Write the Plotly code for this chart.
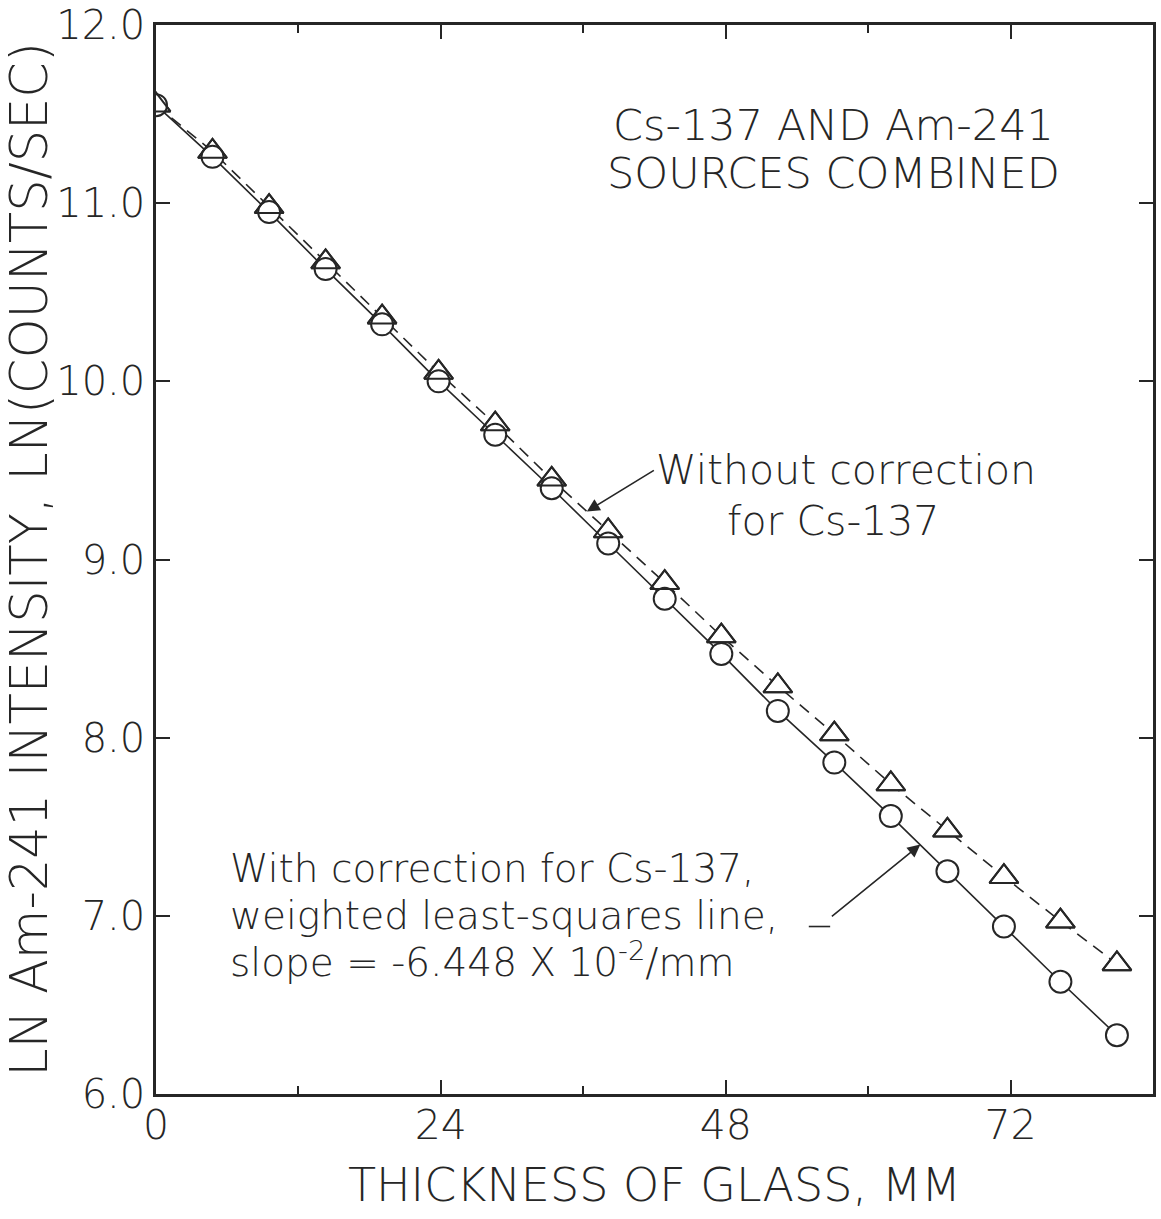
import plotly.graph_objects as go

# ---- data ----
thickness_mm = [0, 4.76, 9.53, 14.29, 19.05, 23.81, 28.58, 33.34, 38.10,
                42.86, 47.63, 52.39, 57.15, 61.91, 66.68, 71.44, 76.20, 80.96]
ln_with_correction = [11.55, 11.26, 10.95, 10.63, 10.32, 10.00, 9.70, 9.40, 9.09,
                      8.78, 8.47, 8.15, 7.86, 7.56, 7.25, 6.94, 6.63, 6.33]
ln_without_correction = [11.55, 11.29, 10.98, 10.67, 10.36, 10.05, 9.76, 9.45, 9.16,
                         8.87, 8.57, 8.29, 8.02, 7.74, 7.48, 7.22, 6.97, 6.73]

x_tick_vals = [0, 24, 48, 72]
x_tick_text = ["0", "24", "48", "72"]
x_minor_vals = [12, 36, 60]
y_tick_vals = [6, 7, 8, 9, 10, 11, 12]
y_tick_text = ["6.0", "7.0", "8.0", "9.0", "10.0", "11.0", "12.0"]

INK = "#262626"
FONT = "DejaVu Sans"

fig = go.Figure()

# dashed series (without correction), white-filled triangles hide the dash inside
fig.add_trace(go.Scatter(
    x=thickness_mm, y=ln_without_correction, mode="lines+markers",
    name="Without correction for Cs-137",
    line=dict(color=INK, width=1.6, dash="12px,8px"),
    marker=dict(symbol="triangle-up", size=25, color="white",
                line=dict(color=INK, width=2)),
))
# solid series (with correction)
fig.add_trace(go.Scatter(
    x=thickness_mm, y=ln_with_correction, mode="lines+markers",
    name="With correction for Cs-137",
    line=dict(color=INK, width=1.6),
    marker=dict(symbol="circle", size=22, color="white",
                line=dict(color=INK, width=2)),
))
# triangle outlines on top so overlapping symbols both show
fig.add_trace(go.Scatter(
    x=thickness_mm, y=ln_without_correction, mode="markers",
    showlegend=False, hoverinfo="skip",
    marker=dict(symbol="triangle-up-open", size=25, color=INK,
                line=dict(color=INK, width=2)),
))

ann_font = dict(family=FONT, size=41, color=INK, weight=300)
low_font = dict(family=FONT, size=39, color=INK, weight=300)
annotations = [
    dict(text="Cs-137 AND Am-241", x=0.68, y=0.9066, xref="paper", yref="paper",
         showarrow=False, xanchor="center", yanchor="middle",
         font=dict(family=FONT, size=43, color=INK, weight=300)),
    dict(text="SOURCES COMBINED", x=0.68, y=0.8617, xref="paper", yref="paper",
         showarrow=False, xanchor="center", yanchor="middle",
         font=dict(family=FONT, size=43, color=INK, weight=300)),
    # label with its leader arrow pointing at the dashed line
    dict(text="Without correction", x=36.3, y=9.27, xref="x", yref="y",
         ax=67, ay=-41, showarrow=True, arrowhead=2, arrowsize=1.6,
         arrowwidth=1.6, arrowcolor=INK, xanchor="left", yanchor="middle",
         font=ann_font),
    dict(text="for Cs-137", x=0.6790, y=0.5360, xref="paper", yref="paper",
         showarrow=False, xanchor="center", yanchor="middle", font=ann_font),
    dict(text="With correction for Cs-137,", x=0.0722, y=0.2114, xref="paper", yref="paper",
         showarrow=False, xanchor="left", yanchor="middle", font=low_font),
    dict(text="weighted least-squares line,", x=0.0722, y=0.1674, xref="paper", yref="paper",
         showarrow=False, xanchor="left", yanchor="middle", font=low_font),
    dict(text="slope = -6.448 X 10<sup>-2</sup>/mm", x=0.0722, y=0.1253, xref="paper", yref="paper",
         showarrow=False, xanchor="left", yanchor="middle", font=low_font),
    # leader arrow pointing at the solid line
    dict(text="", x=64.4, y=7.40, xref="x", yref="y", ax=-90, ay=73,
         showarrow=True, arrowhead=2, arrowsize=1.6, arrowwidth=1.6, arrowcolor=INK),
]

shapes = [
    # short horizontal tail of the lower leader
    dict(type="line", xref="x", yref="y", x0=55.0, x1=56.8, y0=6.94, y1=6.94,
         line=dict(color=INK, width=1.6)),
]

fig.update_layout(
    width=1161, height=1219,
    margin=dict(l=156, r=8, t=25, b=125, autoexpand=False),
    paper_bgcolor="white", plot_bgcolor="white",
    showlegend=False,
    font=dict(family=FONT, color=INK),
    annotations=annotations,
    shapes=shapes,
    xaxis=dict(
        range=[0, 84], tickmode="array", tickvals=x_tick_vals, ticktext=x_tick_text,
        ticks="inside", ticklen=14, tickwidth=2, tickcolor=INK,
        minor=dict(tickmode="array", tickvals=x_minor_vals, ticks="inside",
                   ticklen=8, tickwidth=2, tickcolor=INK, showgrid=False),
        showline=True, linewidth=2.5, linecolor=INK, mirror="ticks",
        showgrid=False, zeroline=False,
        ticklabelstandoff=-7,
        tickfont=dict(family=FONT, size=41, color=INK, weight=300),
        title=dict(text="THICKNESS OF GLASS, MM", standoff=21,
                   font=dict(family=FONT, size=46, color=INK, weight=300)),
        automargin=False,
    ),
    yaxis=dict(
        range=[6, 12], tickmode="array", tickvals=y_tick_vals, ticktext=y_tick_text,
        ticks="inside", ticklen=14, tickwidth=2, tickcolor=INK,
        showline=True, linewidth=2.5, linecolor=INK, mirror="ticks",
        showgrid=False, zeroline=False,
        tickfont=dict(family=FONT, size=40, color=INK, weight=300),
        title=dict(text="LN Am-241 INTENSITY, LN(COUNTS/SEC)", standoff=4,
                   font=dict(family=FONT, size=51, color=INK, weight=300)),
        automargin=False,
    ),
)

fig.write_html("out.html")
